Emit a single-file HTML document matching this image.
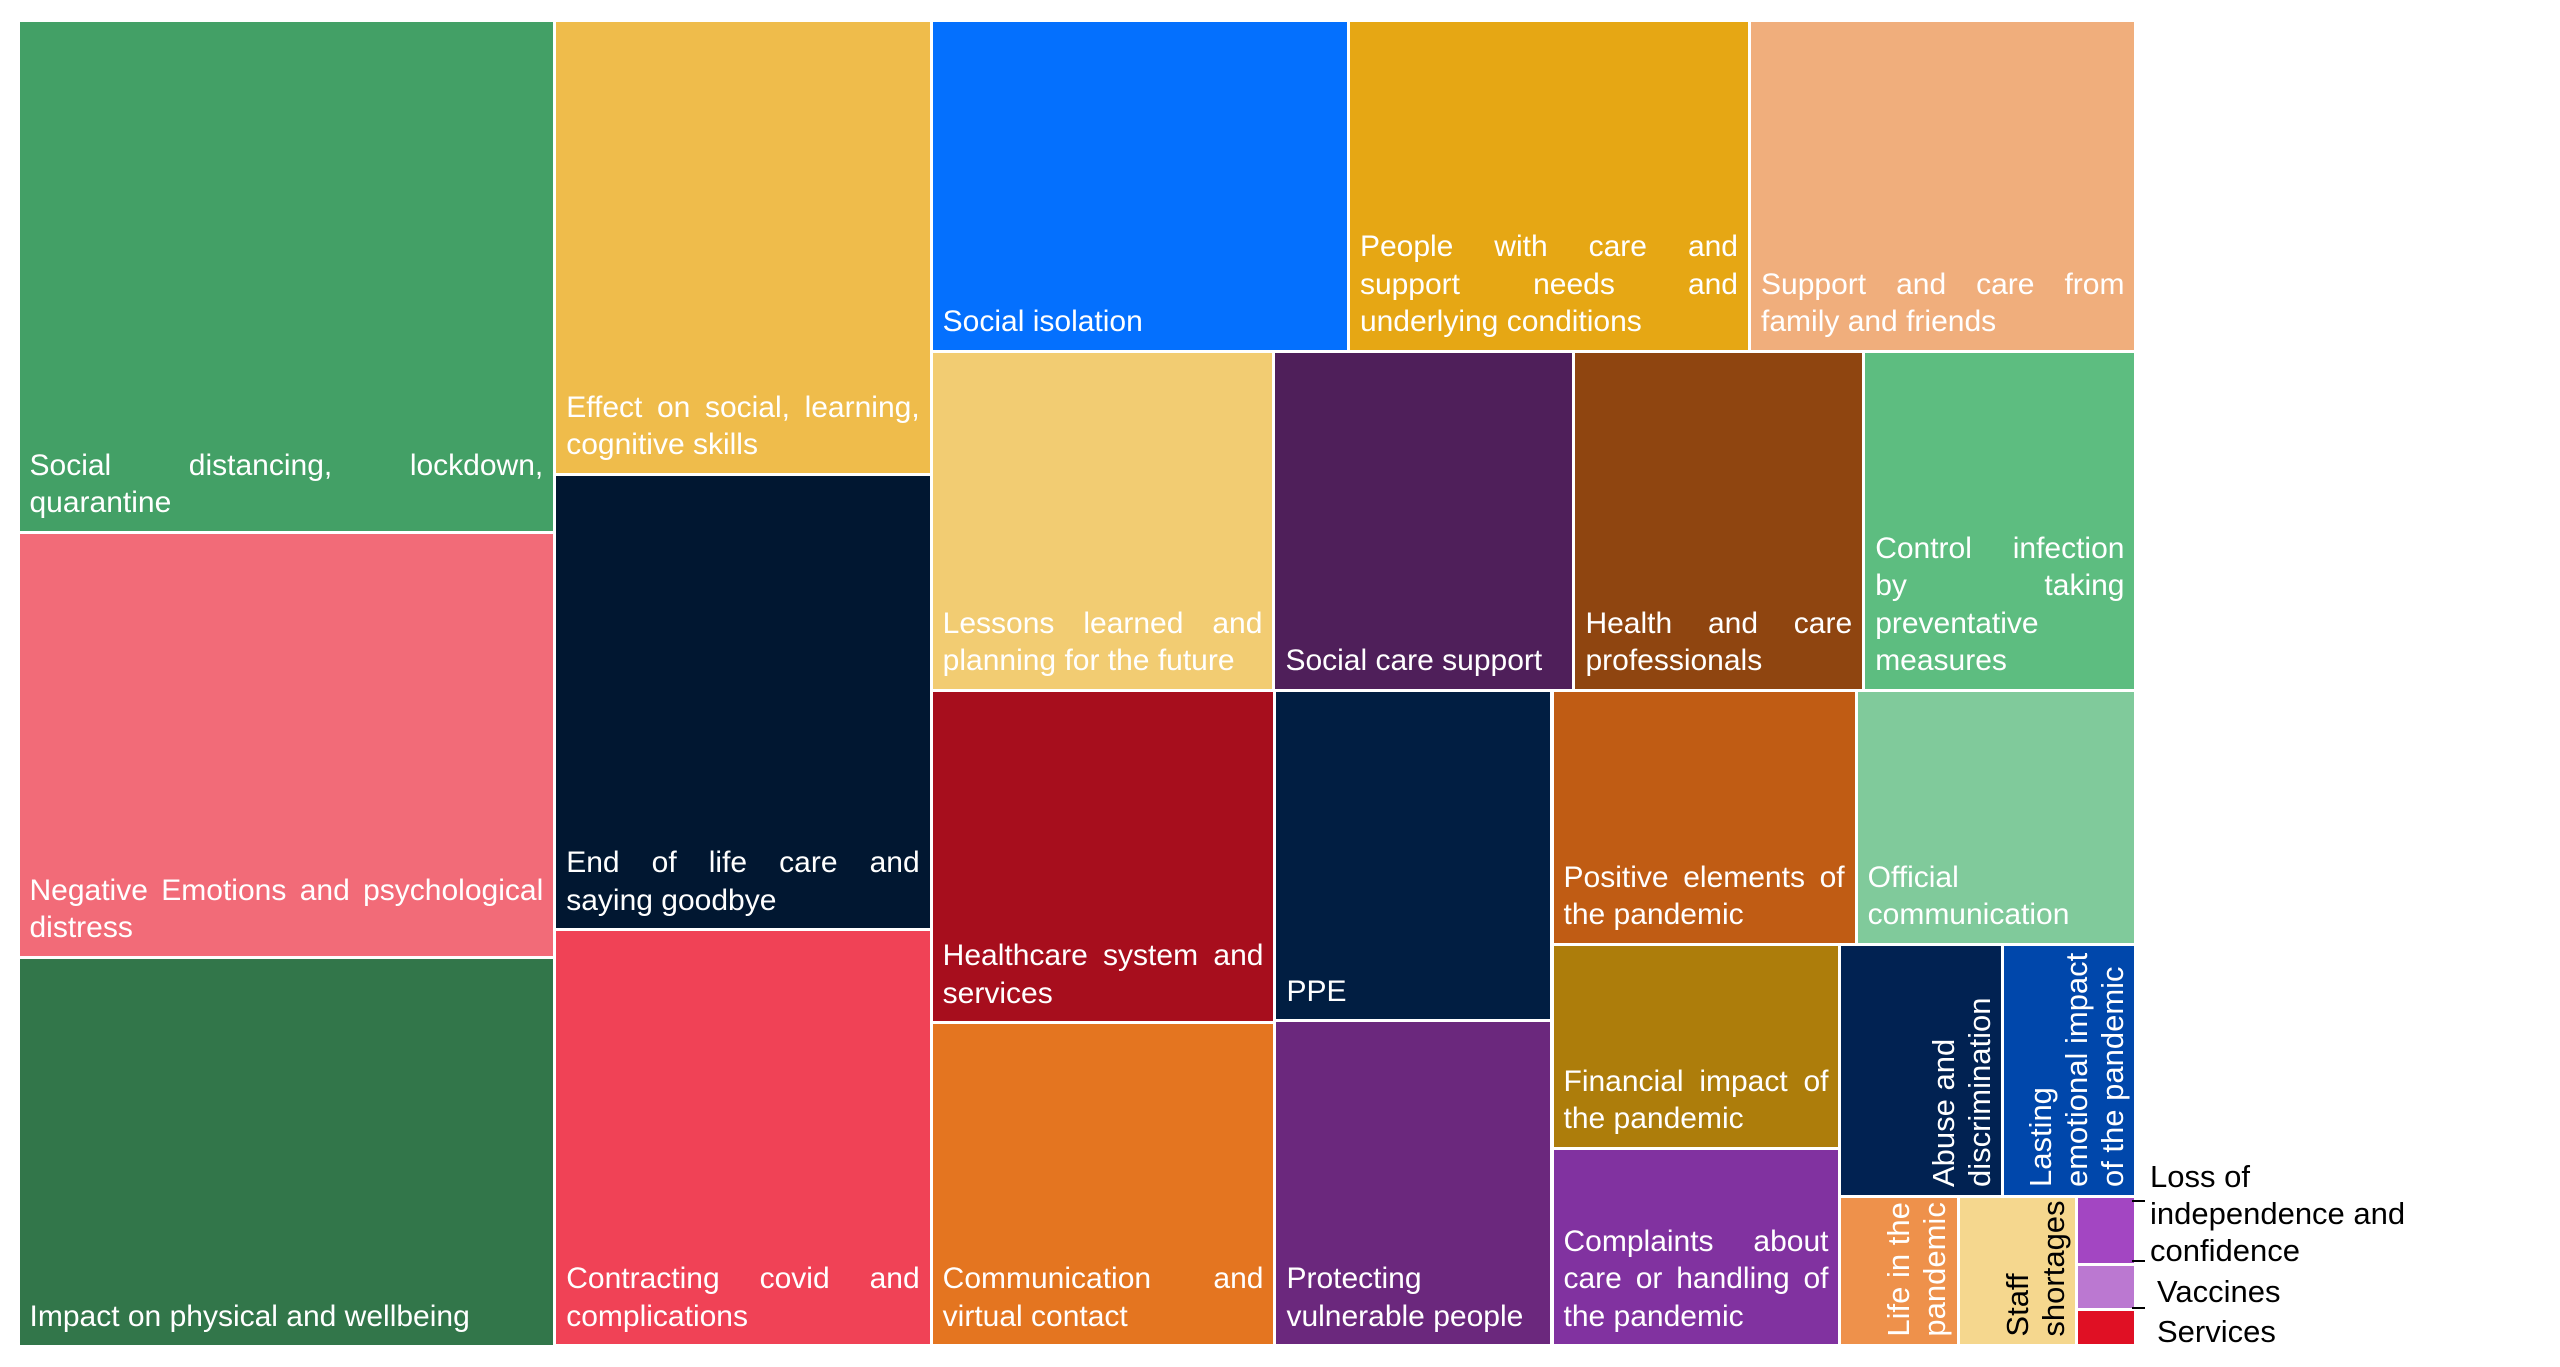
<!DOCTYPE html>
<html><head><meta charset="utf-8">
<style>
html,body{margin:0;padding:0;background:#fff;width:2560px;height:1367px;overflow:hidden;font-family:"Liberation Sans",Arial,sans-serif}
#chart{position:absolute;left:0;top:0;width:2560px;height:1367px}
.cell{position:absolute;box-sizing:border-box;overflow:hidden}
.lbl{position:absolute;left:0;top:0;box-sizing:border-box;display:flex;flex-direction:column;justify-content:flex-end;color:#fff;font-size:30px;line-height:37.5px;padding:0 10px 9px 10px}
.lbl div{white-space:nowrap}
.lbl .j{text-align:justify;text-align-last:justify}
.vl{padding:0 6px 3px 8px;font-size:31px;line-height:36px}
.ext{position:absolute;font-size:31px;color:#000;white-space:nowrap;line-height:37px}
.tick{position:absolute;background:#000;height:2px;width:13px}
</style></head>
<body>
<div id="chart"></div>
<div class="ext" style="left:2150px;top:1158px">Loss of<br>independence and<br>confidence</div>
<div class="ext" style="left:2157px;top:1273px">Vaccines</div>
<div class="ext" style="left:2157px;top:1313px">Services</div>
<div class="tick" style="left:2132px;top:1200px"></div>
<div class="tick" style="left:2132px;top:1260px"></div>
<div class="tick" style="left:2132px;top:1307px"></div>
<script>
const categories = ["Social distancing, lockdown,|quarantine","Negative Emotions and psychological|distress","Impact on physical and wellbeing",
"Effect on social, learning,|cognitive skills","End of life care and|saying goodbye","Contracting covid and|complications",
"Social isolation","People with care and|support needs and|underlying conditions","Support and care from|family and friends",
"Lessons learned and|planning for the future","Social care support","Health and care|professionals","Control infection|by taking|preventative|measures",
"Healthcare system and|services","Communication and|virtual contact",
"PPE","Protecting|vulnerable people",
"Positive elements of|the pandemic","Official|communication",
"Financial impact of|the pandemic","Complaints about|care or handling of|the pandemic",
"Abuse and|discrimination","Lasting|emotional impact|of the pandemic",
"Life in the|pandemic","Staff|shortages","Loss of independence and confidence","Vaccines","Services"];
const values = [1024,850,778, 637,639,584, 515,495,477, 433,379,366,344, 426,414, 341,336, 288,265, 219,212, 153,125, 66,66,15,10,8];
const colors = ["#43a066","#f26b78","#32764a","#efbc4b","#011731","#f04256","#0470fe","#e6a714","#f0ae7c","#f2cc72","#4f1f5a","#8f4510","#5dbd80","#a70e1d","#e47520","#011e42","#6b287d","#c05c14","#80ca9b","#ad7d0b","#8132a0","#012252","#0047ab","#ee914b","#f5d78e","#a346c2","#bb78d1","#e01024"];
// layout strips: [orientation, item count]
const groupDir = ["col","col","row","row","col","col","row","col","row","col","col","col"];
const groupSize = [3,3,3,4,2,2,2,2,2,1,1,3];
const vertical = [21,22,23,24];
const noLabel = [25,26,27];
const darkText = [24];

const chart = document.getElementById('chart');
let R = {x:18, y:20, w:2118, h:1326};
let idx = 0;
const total = a => a.reduce((s,v)=>s+v,0);
function slug(s){return s.replace(/\|/g,' ').toLowerCase().replace(/[^a-z0-9]+/g,'-').replace(/^-|-$/g,'');}
for (let g=0; g<groupDir.length; g++){
  const items = values.slice(idx, idx+groupSize[g]);
  const S = total(items), T = total(values.slice(idx));
  if (groupDir[g]==="col"){
    const gw = R.w*S/T; let yy = R.y;
    items.forEach((v,k)=>{ const hh=R.h*v/S; drawCell(idx+k, R.x, yy, gw, hh); yy+=hh; });
    R.x+=gw; R.w-=gw;
  } else {
    const gh = R.h*S/T; let xx = R.x;
    items.forEach((v,k)=>{ const ww=R.w*v/S; drawCell(idx+k, xx, R.y, ww, gh); xx+=ww; });
    R.y+=gh; R.h-=gh;
  }
  idx += groupSize[g];
}
function drawCell(i,x,y,w,h){
  const c = document.createElement('div');
  c.className='cell';
  
  
  const gap=1.5;
  c.style.left=(x+gap)+'px'; c.style.top=(y+gap)+'px';
  const W=w-2*gap, H=h-2*gap;
  c.style.width=W+'px'; c.style.height=H+'px';
  c.style.background=colors[i];
  chart.appendChild(c);
  if (noLabel.includes(i)) return;
  const l = document.createElement('div');
  
  
  const lines = categories[i].split('|');
  if (vertical.includes(i)){
    l.className='lbl vl';
    l.style.width=H+'px'; l.style.height=W+'px';
    l.style.transformOrigin='0 0';
    l.style.transform='translate(0px,'+H+'px) rotate(-90deg)';
    lines.forEach(t=>{const d=document.createElement('div'); d.textContent=t; l.appendChild(d);});
  } else {
    l.className='lbl';
    l.style.width=W+'px'; l.style.height=H+'px';
    lines.forEach((t,k)=>{const d=document.createElement('div'); d.textContent=t;
      if (k<lines.length-1 && t.indexOf(' ')>=0) d.className='j'; l.appendChild(d);});
  }
  if (darkText.includes(i)) l.style.color='#000';
  c.appendChild(l);
}
</script>
</body></html>
